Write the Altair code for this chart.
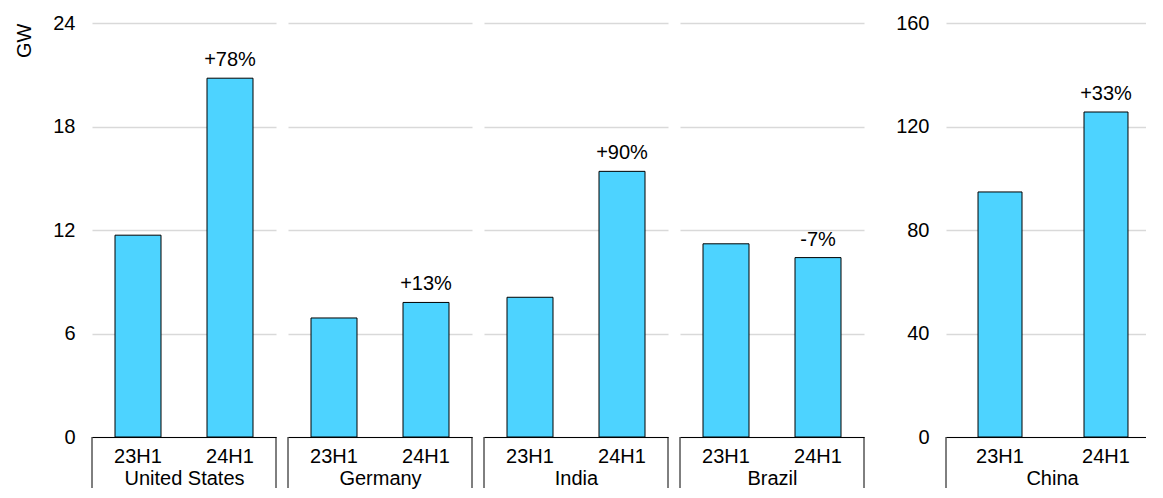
import altair as alt
import pandas as pd

COUNTRIES = ["United States", "Germany", "India", "Brazil", "China"]
PERIODS = ["23H1", "24H1"]
H1_2023 = [11.7, 6.9, 8.1, 11.2, 94.7]
H1_2024 = [20.8, 7.8, 15.4, 10.4, 125.6]
CHANGE = ["+78%", "+13%", "+90%", "-7%", "+33%"]
LEFT_TICKS = [0, 6, 12, 18, 24]
CHINA_TICKS = [0, 40, 80, 120, 160]

rows = []
for c, a, b, ch in zip(COUNTRIES, H1_2023, H1_2024, CHANGE):
    rows.append({"country": c, "period": PERIODS[0], "value": a, "change": ""})
    rows.append({"country": c, "period": PERIODS[1], "value": b, "change": ch})
df = pd.DataFrame(rows)

BAR_COLOR = "#4DD3FF"
FONT = "Liberation Sans"
PLOT_H = 414
BOX_DEPTH = 51


def panel(country, ticks, width, show_labels, ytitle, scale_kw, right_edge=True, title_x=None):
    ymax = ticks[-1]
    depth = ymax * BOX_DEPTH / PLOT_H
    data = df[df["country"] == country]
    xaxis_kwargs = dict(
        title=country,
        labelAngle=0,
        ticks=False,
        tickSize=0,
        domain=True,
        domainColor="black",
        domainWidth=1,
        labelPadding=9,
        titleY=31,
        titleBaseline="top",
    )
    if title_x is not None:
        xaxis_kwargs.update(titleX=title_x, titleAlign="center", titleAnchor="start")
    x_enc = alt.X("period:N", sort=PERIODS, scale=alt.Scale(**scale_kw), axis=alt.Axis(**xaxis_kwargs))
    yaxis_kwargs = dict(
        values=ticks,
        labels=show_labels,
        grid=True,
        domain=False,
        ticks=False,
        tickSize=0,
        labelPadding=17,
        labelAlign="right",
    )
    if ytitle:
        yaxis_kwargs.update(
            title=ytitle,
            titleAnchor="end",
            titlePadding=18,
        )
    y_enc = alt.Y(
        "value:Q",
        scale=alt.Scale(domain=[0, ymax], nice=False),
        axis=alt.Axis(**yaxis_kwargs),
        title=ytitle if ytitle else None,
    )
    base = alt.Chart(data)
    bars = base.mark_bar(color=BAR_COLOR, stroke="black", strokeWidth=1).encode(x=x_enc, y=y_enc)
    txt = base.mark_text(baseline="alphabetic", dy=-12, fontSize=20, font=FONT, color="black").encode(
        x=x_enc, y=y_enc, text="change:N"
    )
    edge_df = pd.DataFrame({"edge": [0]})
    left_rule = alt.Chart(edge_df).mark_rule(color="black", strokeWidth=1).encode(
        x=alt.value(0), y=alt.datum(0), y2=alt.datum(-depth)
    )
    layers = [bars, txt, left_rule]
    if right_edge:
        right_rule = alt.Chart(edge_df).mark_rule(color="black", strokeWidth=1).encode(
            x=alt.value("width"), y=alt.datum(0), y2=alt.datum(-depth)
        )
        layers.append(right_rule)
    return alt.layer(*layers).properties(width=width, height=PLOT_H)


GROUP_SCALE = dict(paddingInner=0.5, paddingOuter=0.25)
CHINA_SCALE = dict(paddingInner=0.585, paddingOuter=0.236, align=0.64)

left = [
    panel("United States", LEFT_TICKS, 184, True, "GW", GROUP_SCALE),
    panel("Germany", LEFT_TICKS, 184, False, None, GROUP_SCALE),
    panel("India", LEFT_TICKS, 184, False, None, GROUP_SCALE),
    panel("Brazil", LEFT_TICKS, 184, False, None, GROUP_SCALE),
]
china = panel("China", CHINA_TICKS, 200, True, None, CHINA_SCALE, right_edge=False, title_x=106)

chart = (
    alt.hconcat(alt.hconcat(*left, spacing=10), china, spacing=30)
    .properties(padding={"left": 6, "top": 5, "right": 0, "bottom": 0})
    .configure(font=FONT)
    .configure_axis(
        labelFont=FONT,
        titleFont=FONT,
        labelFontSize=20,
        titleFontSize=20,
        labelColor="black",
        titleColor="black",
        titleFontWeight="normal",
        gridColor="#d9d9d9",
        gridWidth=1.5,
    )
    .configure_view(strokeWidth=0)
)

chart.save("out.html", embed_options={"renderer": "svg", "actions": False})
